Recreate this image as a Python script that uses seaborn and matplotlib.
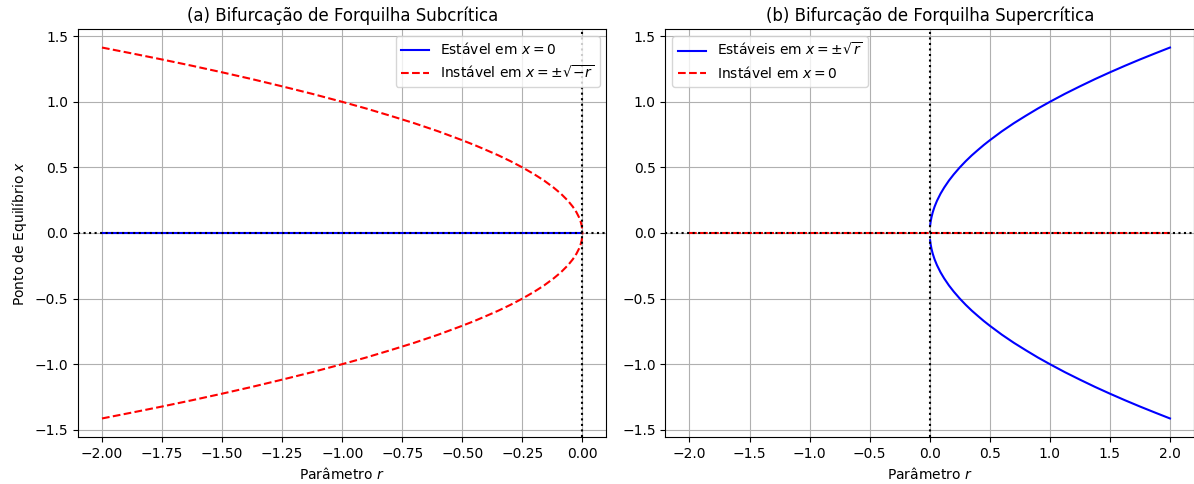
import matplotlib
matplotlib.use("Agg")
import matplotlib.pyplot as plt
import numpy as np
import seaborn as sns

# Subcritical pitchfork: equilibrium branches over r <= 0
r_sub = [-2.0, -1.875, -1.75, -1.625, -1.5, -1.375, -1.25, -1.125, -1.0, -0.9,
         -0.8, -0.7, -0.6, -0.5, -0.45, -0.4, -0.35, -0.3, -0.25, -0.2, -0.16,
         -0.12, -0.09, -0.06, -0.04, -0.025, -0.015, -0.008, -0.003, 0.0]
x_sub_unstable = [1.414, 1.369, 1.323, 1.275, 1.225, 1.173, 1.118, 1.061, 1.0,
                  0.949, 0.894, 0.837, 0.775, 0.707, 0.671, 0.632, 0.592, 0.548,
                  0.5, 0.447, 0.4, 0.346, 0.3, 0.245, 0.2, 0.158, 0.122, 0.089,
                  0.055, 0.0]
r_sub_stable = [-2.0, 0.0]
x_sub_stable = [0.0, 0.0]

# Supercritical pitchfork: equilibrium branches over r >= 0
r_sup = [0.003, 0.008, 0.015, 0.025, 0.04, 0.06, 0.09, 0.12, 0.16, 0.2, 0.25,
         0.3, 0.35, 0.4, 0.45, 0.5, 0.6, 0.7, 0.8, 0.9, 1.0, 1.125, 1.25, 1.375,
         1.5, 1.625, 1.75, 1.875, 2.0]
x_sup_stable = [0.055, 0.089, 0.122, 0.158, 0.2, 0.245, 0.3, 0.346, 0.4, 0.447,
                0.5, 0.548, 0.592, 0.632, 0.671, 0.707, 0.775, 0.837, 0.894,
                0.949, 1.0, 1.061, 1.118, 1.173, 1.225, 1.275, 1.323, 1.369,
                1.414]
r_sup_unstable = [-2.0, 2.0]
x_sup_unstable = [0.0, 0.0]

titles = ["(a) Bifurcação de Forquilha Subcrítica",
          "(b) Bifurcação de Forquilha Supercrítica"]

fig, axes = plt.subplots(1, 2, figsize=(11.94, 4.84), dpi=100)
fig.subplots_adjust(left=0.0653, right=1.0, top=0.9401, bottom=0.0971,
                    wspace=0.1116)

# (a) subcritical
ax = axes[0]
sns.lineplot(x=r_sub_stable, y=x_sub_stable, ax=ax, color="blue",
             label=r"Estável em $x = 0$")
sns.lineplot(x=r_sub, y=x_sub_unstable, ax=ax, color="red", linestyle="--",
             label=r"Instável em $x = \pm\sqrt{-r}$")
sns.lineplot(x=r_sub, y=-np.array(x_sub_unstable), ax=ax, color="red",
             linestyle="--")
ax.axhline(0, color="black", linestyle=":")
ax.axvline(0, color="black", linestyle=":")
ax.set_title(titles[0])
ax.set_xlabel(r"Parâmetro $r$")
ax.set_ylabel(r"Ponto de Equilíbrio $x$")
ax.grid(True)
ax.legend(loc="upper right")

# (b) supercritical
ax = axes[1]
sns.lineplot(x=r_sup, y=x_sup_stable, ax=ax, color="blue",
             label=r"Estáveis em $x = \pm\sqrt{r}$")
sns.lineplot(x=r_sup, y=-np.array(x_sup_stable), ax=ax, color="blue")
sns.lineplot(x=r_sup_unstable, y=x_sup_unstable, ax=ax, color="red",
             linestyle="--", label=r"Instável em $x = 0$")
ax.axhline(0, color="black", linestyle=":")
ax.axvline(0, color="black", linestyle=":")
ax.set_title(titles[1])
ax.set_xlabel(r"Parâmetro $r$")
ax.set_ylabel("")
ax.grid(True)
ax.legend(loc="upper left")

fig.savefig("out.png", dpi=100)
